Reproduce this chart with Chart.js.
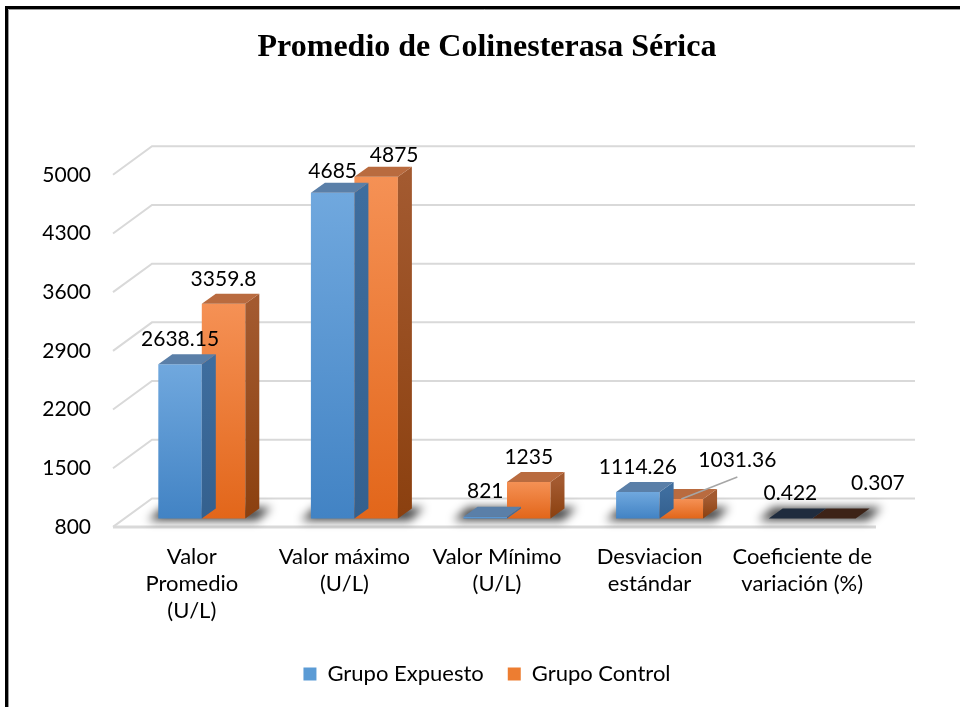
<!DOCTYPE html>
<html>
<head>
<meta charset="utf-8">
<script src="https://cdn.jsdelivr.net/npm/chart.js@4.4.1/dist/chart.umd.min.js"></script>
<style>
  html, body { margin: 0; padding: 0; background: #fff; }
  #wrap { width: 960px; height: 707px; }
</style>
</head>
<body>
<div id="wrap"><canvas id="chart"></canvas></div>
<script>
const categories = [
    ["Valor", "Promedio", "(U/L)"],
    ["Valor máximo", "(U/L)"],
    ["Valor Mínimo", "(U/L)"],
    ["Desviacion", "estándar"],
    ["Coeficiente de", "variación (%)"]
];
const seriesNames = ["Grupo Expuesto", "Grupo Control"];
const expuesto = [2638.15, 4685, 821, 1114.26, 0.422];
const control = [3359.8, 4875, 1235, 1031.36, 0.307];
const yMin = 800;
const yMax = 5000;
const yStep = 700;

// look of the 3D effect
const DX = 14, DY = -10;            // depth of each bar
const WALL_BACK = { x: 26.5, y: -20 };
const WALL_FRONT = { x: -12.5, y: 8.5 };
const palette = [
    { top: "#70a8de", bottom: "#4283c4", cap: "#5a7fa8", side: "#3e6d9e", sideDark: "#34608e", flat: "#1f2c3e", legend: "#5b9bd5" },
    { top: "#f59155", bottom: "#e2661a", cap: "#b96b3f", side: "#a35a30", sideDark: "#8b400f", flat: "#3d2317", legend: "#ed7d31" }
];
// hand-placed label nudges, as in the original
const labelNudge = {
    "0-1": [0, 4],
    "1-1": [18, 3],
    "1-3": [56, -14],
    "1-4": [44, -10]
};
const leaderLines = ["1-3"];

function frontFill(idx) {
    return function (c) {
        const chart = c.chart;
        const area = chart.chartArea;
        if (!area) return palette[idx].bottom;
        const y = chart.scales.y;
        const top = y.getPixelForValue(Math.max(c.raw, yMin));
        const g = chart.ctx.createLinearGradient(0, Math.min(top, area.bottom - 1), 0, area.bottom);
        g.addColorStop(0, palette[idx].top);
        g.addColorStop(1, palette[idx].bottom);
        return g;
    };
}

function poly(ctx, pts, fill) {
    ctx.beginPath();
    ctx.moveTo(pts[0][0], pts[0][1]);
    for (let k = 1; k < pts.length; k++) ctx.lineTo(pts[k][0], pts[k][1]);
    ctx.closePath();
    ctx.fillStyle = fill;
    ctx.fill();
}

const bar3d = {
    id: "bar3d",
    beforeDatasetsDraw(chart) {
        const { ctx, chartArea: a, scales } = chart;
        const ys = scales.y;
        ctx.save();
        ctx.strokeStyle = "#d9d9d9";
        ctx.lineWidth = 2;
        ys.ticks.forEach(t => {
            const p = ys.getPixelForValue(t.value);
            ctx.beginPath();
            ctx.moveTo(a.left + WALL_FRONT.x, p + WALL_FRONT.y);
            ctx.lineTo(a.left + WALL_BACK.x, p + WALL_BACK.y);
            ctx.lineTo(a.right + WALL_BACK.x, p + WALL_BACK.y);
            ctx.stroke();
        });
        // floor front edge
        ctx.lineWidth = 3;
        ctx.beginPath();
        ctx.moveTo(a.left + WALL_FRONT.x, a.bottom + WALL_FRONT.y);
        ctx.lineTo(a.right + WALL_FRONT.x, a.bottom + WALL_FRONT.y);
        ctx.stroke();

        // soft shadows under each group
        const m0 = chart.getDatasetMeta(0).data;
        const m1 = chart.getDatasetMeta(1).data;
        ctx.filter = "blur(5px)";
        ctx.fillStyle = "rgba(0,0,0,0.75)";
        m0.forEach((el, i) => {
            const L = el.x - el.width / 2 - 10;
            const R = m1[i].x + m1[i].width / 2 + DX + 12;
            const B = a.bottom;
            ctx.beginPath();
            ctx.moveTo(L, B + 2);
            ctx.lineTo(R - DX, B + 2);
            ctx.lineTo(R, B - 11);
            ctx.lineTo(L + DX, B - 11);
            ctx.closePath();
            ctx.fill();
        });
        ctx.filter = "none";
        ctx.restore();
    },
    afterDatasetDraw(chart, args) {
        const { ctx, chartArea: a, scales } = chart;
        const idx = args.index;
        const col = palette[idx];
        const vals = chart.data.datasets[idx].data;
        ctx.save();
        args.meta.data.forEach((el, i) => {
            const v = vals[i];
            const L = el.x - el.width / 2;
            const R = el.x + el.width / 2;
            const T = scales.y.getPixelForValue(Math.max(v, yMin));
            const B = a.bottom;
            if (v < yMin) {
                poly(ctx, [[L, B], [R, B], [R + DX, B + DY], [L + DX, B + DY]], col.flat);
                return;
            }
            const g = ctx.createLinearGradient(0, T, 0, B);
            g.addColorStop(0, col.side);
            g.addColorStop(1, col.sideDark);
            poly(ctx, [[R, T], [R + DX, T + DY], [R + DX, B + DY], [R, B]], g);
            poly(ctx, [[L, T], [R, T], [R + DX, T + DY], [L + DX, T + DY]], col.cap);
        });
        ctx.restore();
    },
    afterDatasetsDraw(chart) {
        const { ctx, scales } = chart;
        ctx.save();
        ctx.font = "21px Lato";
        ctx.textAlign = "center";
        ctx.textBaseline = "middle";
        chart.data.datasets.forEach((ds, d) => {
            chart.getDatasetMeta(d).data.forEach((el, i) => {
                const key = d + "-" + i;
                const nudge = labelNudge[key] || [0, 0];
                const T = scales.y.getPixelForValue(Math.max(ds.data[i], yMin));
                const x = el.x + nudge[0];
                const y = T - 25 + nudge[1];
                if (leaderLines.includes(key)) {
                    ctx.strokeStyle = "#a6a6a6";
                    ctx.lineWidth = 1.5;
                    ctx.beginPath();
                    ctx.moveTo(x, y + 17);
                    ctx.lineTo(el.x, T);
                    ctx.stroke();
                }
                ctx.fillStyle = "#000";
                ctx.fillText(String(ds.data[i]), x, y);
            });
        });
        ctx.restore();
    },
    afterDraw(chart) {
        const ctx = chart.ctx;
        ctx.save();
        ctx.strokeStyle = "#000";
        ctx.lineWidth = 3;
        ctx.beginPath();
        ctx.moveTo(6.5, 707);
        ctx.lineTo(6.5, 7.5);
        ctx.lineTo(960, 7.5);
        ctx.stroke();
        ctx.strokeStyle = "#9a9a9a";
        ctx.lineWidth = 1;
        ctx.beginPath();
        ctx.moveTo(8.5, 707);
        ctx.lineTo(8.5, 9.5);
        ctx.lineTo(960, 9.5);
        ctx.stroke();
        ctx.restore();
    }
};

Chart.defaults.font.family = "Lato, 'Open Sans', sans-serif";
Chart.defaults.color = "#000";

new Chart(document.getElementById("chart"), {
    type: "bar",
    data: {
        labels: categories,
        datasets: [
            {
                label: seriesNames[0],
                data: expuesto,
                backgroundColor: frontFill(0),
                borderWidth: 0,
                barPercentage: 1,
                categoryPercentage: 0.57,
                clip: 0
            },
            {
                label: seriesNames[1],
                data: control,
                backgroundColor: frontFill(1),
                borderWidth: 0,
                barPercentage: 1,
                categoryPercentage: 0.57,
                clip: 0
            }
        ]
    },
    options: {
        responsive: true,
        maintainAspectRatio: false,
        animation: false,
        layout: {
            padding: { left: 20, right: 6, top: 10, bottom: 12 }
        },
        plugins: {
            title: {
                display: true,
                text: "Promedio de Colinesterasa Sérica",
                color: "#000",
                font: { family: "'Liberation Serif', 'Times New Roman', serif", size: 32, weight: "bold" },
                padding: { top: 19, bottom: 98.9 }
            },
            legend: {
                position: "bottom",
                labels: {
                    boxWidth: 13,
                    boxHeight: 13,
                    padding: 24,
                    font: { size: 22 },
                    generateLabels: function (chart) {
                        return chart.data.datasets.map((ds, i) => ({
                            text: ds.label,
                            fillStyle: palette[i].legend,
                            strokeStyle: palette[i].legend,
                            lineWidth: 0,
                            datasetIndex: i
                        }));
                    }
                }
            },
            tooltip: { enabled: false }
        },
        scales: {
            x: {
                grid: { display: false, drawTicks: false },
                border: { display: false },
                ticks: {
                    font: { size: 22, lineHeight: 1.22 },
                    padding: 25,
                    labelOffset: -10,
                    maxRotation: 0,
                    autoSkip: false
                },
                afterFit: function (s) { s.height = 120.6; }
            },
            y: {
                min: yMin,
                max: yMax,
                grid: { display: false, drawTicks: false },
                border: { display: false },
                ticks: {
                    stepSize: yStep,
                    font: { size: 21 },
                    padding: 34.5,
                    labelOffset: 8.5,
                    callback: v => String(v)
                },
                afterFit: function (s) { s.width = 105.5; }
            },
            // empty spacer on the right so the title and legend sit where they do in the original
            spacer: {
                type: "linear",
                position: "right",
                display: true,
                grid: { display: false, drawTicks: false },
                border: { display: false },
                ticks: { display: false },
                afterFit: function (s) { s.width = 65.5; }
            }
        }
    },
    plugins: [bar3d]
});
</script>
</body>
</html>
